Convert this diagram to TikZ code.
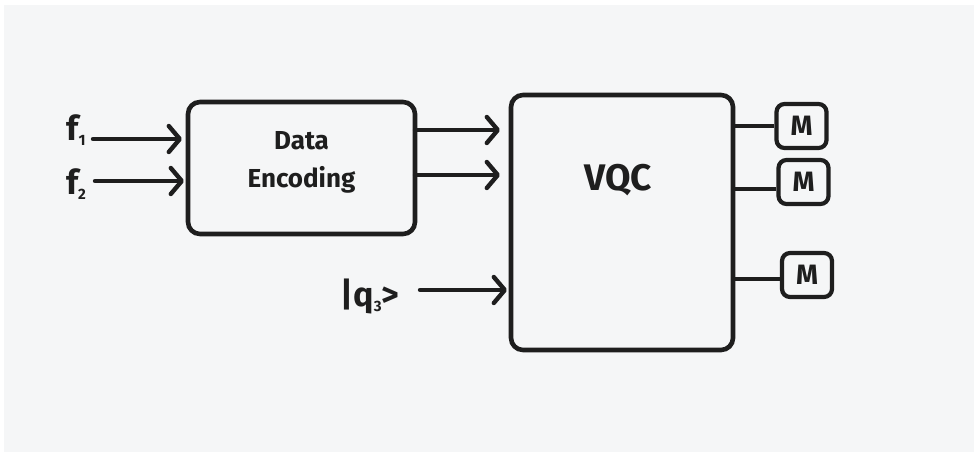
\documentclass[tikz,border=0pt]{standalone}
\usepackage{fontspec}
\setmainfont{Fira Sans}
\usetikzlibrary{arrows.meta}
\definecolor{ink}{HTML}{1E1E1E}
\definecolor{paper}{HTML}{F5F6F7}
\newcommand{\lowsub}[1]{\raisebox{-5pt}{\fontsize{15}{15}\selectfont #1}}
\tikzset{
  block/.style={draw=ink, line width=4.6pt, rounded corners=12pt},
  meter/.style={draw=ink, line width=4.2pt, rounded corners=8pt, minimum width=50pt, minimum height=44pt,
    inner sep=0pt, font=\bfseries\fontsize{28}{28}\selectfont, text=ink},
  feed/.style={draw=ink, line width=4.4pt, line cap=round,
    -{Straight Barb[length=11pt,width=26pt,line width=4.4pt,round]}},
  wire/.style={draw=ink, line width=4.8pt},
  lbl/.style={text=ink, font=\bfseries\fontsize{26}{38}\selectfont, inner sep=0pt},
  inlbl/.style={text=ink, font=\bfseries\fontsize{34}{34}\selectfont, inner sep=0pt}
}
\begin{document}
\begin{tikzpicture}[x=1pt,y=-1pt]
  % canvas
  \fill[white] (0,0) rectangle (974,452);
  \fill[paper] (4,5) rectangle (974,452);
  \useasboundingbox (0,0) rectangle (974,452);

  % main blocks
  \draw[block] (188,102) rectangle (415,234);
  \node[lbl, align=center] (enc) at (301.5,162) {Data\\Encoding};
  \draw[block] (511,95) rectangle (733,350);
  \node[lbl, font=\bfseries\fontsize{37}{37}\selectfont] (vqc) at (618,180) {VQC};

  % inputs
  \node[inlbl] (f1) at (76,130) {f\lowsub{1}};
  \node[inlbl] (f2) at (76,184) {f\lowsub{2}};
  \node[inlbl] (q3) at (370,297) {|q\lowsub{3}>};
  \coordinate (f1a) at (93,139);  \coordinate (f1b) at (182,139);
  \coordinate (f2a) at (95,181);  \coordinate (f2b) at (184,181);
  \draw[feed] (f1a) -- (f1b);
  \draw[feed] (f2a) -- (f2b);

  % encoded outputs into the circuit
  \coordinate (e1a) at (415,130); \coordinate (e1b) at (500,130);
  \coordinate (e2a) at (415,175); \coordinate (e2b) at (500,175);
  \draw[feed] (e1a) -- (e1b);
  \draw[feed] (e2a) -- (e2b);
  \coordinate (q3a) at (420,290); \coordinate (q3b) at (507,290);
  \draw[feed] (q3a) -- (q3b);

  % measurements
  \node[meter] (m1) at (801.5,126) {M};
  \node[meter] (m2) at (803.5,182) {M};
  \node[meter] (m3) at (807,275) {M};
  \coordinate (o1) at (733,126);
  \coordinate (o2) at (733,189);
  \coordinate (o3) at (733,279);
  \draw[wire] (o1) -- (m1.west |- o1);
  \draw[wire] (o2) -- (m2.west |- o2);
  \draw[wire] (o3) -- (m3.west |- o3);
\end{tikzpicture}
\end{document}
